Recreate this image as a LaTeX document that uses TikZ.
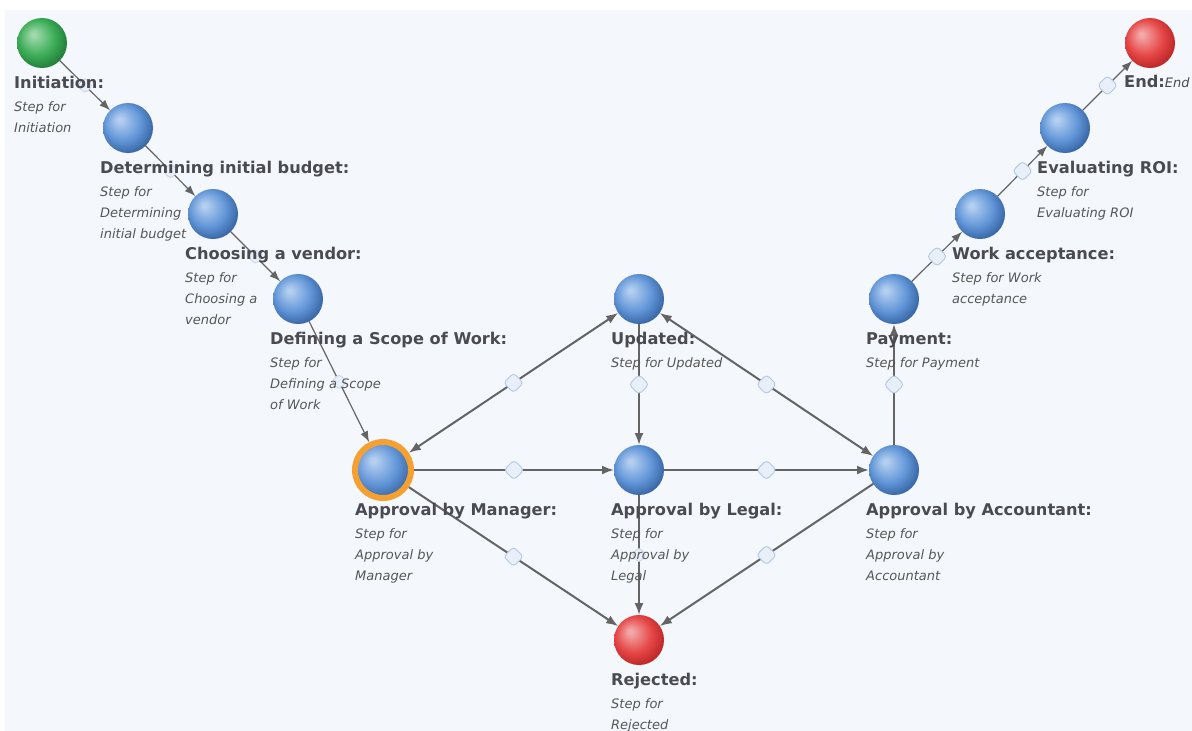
\documentclass[tikz,border=0pt]{standalone}
\usepackage{fontspec}
\setmainfont{DejaVu Sans}
\usetikzlibrary{arrows.meta}
\definecolor{bgc}{HTML}{F4F7FB}
\definecolor{bhi}{HTML}{B4CFF0}
\definecolor{bmid}{HTML}{6296D8}
\definecolor{bdark}{HTML}{2C5896}
\definecolor{ghi}{HTML}{A0D9AC}
\definecolor{gmid}{HTML}{3CAD57}
\definecolor{gdark}{HTML}{1A7033}
\definecolor{rhi}{HTML}{F4A8A8}
\definecolor{rmid}{HTML}{E64646}
\definecolor{rdark}{HTML}{B01E1E}
\definecolor{ringc}{HTML}{F5A033}
\definecolor{lnc}{HTML}{646464}
\definecolor{dfill}{HTML}{E8EFF9}
\definecolor{dline}{HTML}{B5C8E3}
\definecolor{ttlc}{HTML}{4A4A52}
\definecolor{dscc}{HTML}{565656}
\pgfdeclareradialshading{sphblue}{\pgfpoint{-9bp}{9bp}}{color(0bp)=(bhi); color(2bp)=(bhi); color(18bp)=(bmid); color(32bp)=(bdark); color(45bp)=(bdark)}
\pgfdeclareradialshading{sphgreen}{\pgfpoint{-9bp}{9bp}}{color(0bp)=(ghi); color(2bp)=(ghi); color(18bp)=(gmid); color(32bp)=(gdark); color(45bp)=(gdark)}
\pgfdeclareradialshading{sphred}{\pgfpoint{-9bp}{9bp}}{color(0bp)=(rhi); color(2bp)=(rhi); color(18bp)=(rmid); color(32bp)=(rdark); color(45bp)=(rdark)}
\newcommand\dscfont{\fontsize{13}{21}\selectfont\mdseries\itshape}
\newcommand\mkstep[3]{%
  \node[ttl] (#1-t) at ([shift={(-28pt,-45pt)}]#1.center) {#2};
  \node[dsc] (#1-d) at ([shift={(-28pt,-68pt)}]#1.center) {\begin{tabular}[t]{@{}l@{}}#3\end{tabular}};}
\tikzset{
  sph/.style={circle, minimum size=50pt, inner sep=0pt, outer sep=0pt, shade, shading=sphblue},
  sphg/.style={sph, shading=sphgreen},
  sphr/.style={sph, shading=sphred},
  mgrsph/.style={sph, minimum size=56pt, draw=ringc, line width=6pt, outer sep=3pt},
  edgec/.style={draw=lnc, line width=2pt, -{Latex[length=12pt,width=9pt]}},
  edgeb/.style={draw=lnc, line width=2pt, {Latex[length=12pt,width=9pt]}-{Latex[length=12pt,width=9pt]}},
  edges/.style={draw=lnc, line width=1.2pt, -{Latex[length=11pt,width=8pt]}},
  dia/.style={rectangle, rotate=45, minimum size=14pt, inner sep=0pt, rounded corners=3.5pt, fill=dfill, draw=dline, line width=0.9pt},
  dias/.style={dia, minimum size=11pt, draw=dline!70},
  ttl/.style={anchor=base west, inner sep=0pt, text=ttlc, font=\fontsize{16.2}{18}\selectfont\bfseries},
  dsc/.style={anchor=base west, inner sep=0pt, text=dscc, font=\dscfont},
}
\begin{document}
\begin{tikzpicture}[x=1pt,y=-1pt]
\useasboundingbox (0,0) rectangle (1192,731);
\fill[white] (0,0) rectangle (1192,731);
\fill[bgc] (5,10) rectangle (1192,731);
% spheres
\node[sphg] (ini) at (42,43) {};
\node[sph] (bud) at (128,128) {};
\node[sph] (ven) at (213,214) {};
\node[sph] (sco) at (298,299) {};
\node[mgrsph] (mgr) at (383,470) {};
\node[sph] (upd) at (639,299) {};
\node[sph] (leg) at (639,470) {};
\node[sphr] (rej) at (639,640) {};
\node[sph] (acc) at (894,470) {};
\node[sph] (pay) at (894,299) {};
\node[sph] (wrk) at (980,214) {};
\node[sph] (roi) at (1065,128) {};
\node[sphr] (endn) at (1150,43) {};
% connectors
\draw[edges] (ini) -- node[dias]{} (bud);
\draw[edges] (bud) -- node[dias]{} (ven);
\draw[edges] (ven) -- node[dias]{} (sco);
\draw[edges] (sco) -- node[dias]{} (mgr);
\draw[edgeb] (mgr) -- node[dia]{} (upd);
\draw[edgec] (mgr) -- node[dia]{} (leg);
\draw[edgec] (mgr) -- node[dia]{} (rej);
\draw[edgec] (upd) -- node[dia]{} (leg);
\draw[edgeb] (upd) -- node[dia]{} (acc);
\draw[edgec] (leg) -- node[dia]{} (acc);
\draw[edgec] (leg) -- node[dias]{} (rej);
\draw[edgec] (acc) -- node[dia]{} (rej);
\draw[edgec] (acc) -- node[dia]{} (pay);
\draw[edges] (pay) -- node[dia]{} (wrk);
\draw[edges] (wrk) -- node[dia]{} (roi);
\draw[edges] (roi) -- node[dia]{} (endn);
% labels
\mkstep{ini}{Initiation:}{Step for\\Initiation}
\mkstep{bud}{Determining initial budget:}{Step for\\Determining\\initial budget}
\mkstep{ven}{Choosing a vendor:}{Step for\\Choosing a\\vendor}
\mkstep{sco}{Defining a Scope of Work:}{Step for\\Defining a Scope\\of Work}
\mkstep{mgr}{Approval by Manager:}{Step for\\Approval by\\Manager}
\mkstep{upd}{Updated:}{Step for Updated}
\mkstep{leg}{Approval by Legal:}{Step for\\Approval by\\Legal}
\mkstep{rej}{Rejected:}{Step for\\Rejected}
\mkstep{acc}{Approval by Accountant:}{Step for\\Approval by\\Accountant}
\mkstep{pay}{Payment:}{Step for Payment}
\mkstep{wrk}{Work acceptance:}{Step for Work\\acceptance}
\mkstep{roi}{Evaluating ROI:}{Step for\\Evaluating ROI}
\node[ttl] (endn-t) at ([shift={(-26pt,-44pt)}]endn.center) {End:{\dscfont End}};
\end{tikzpicture}
\end{document}
